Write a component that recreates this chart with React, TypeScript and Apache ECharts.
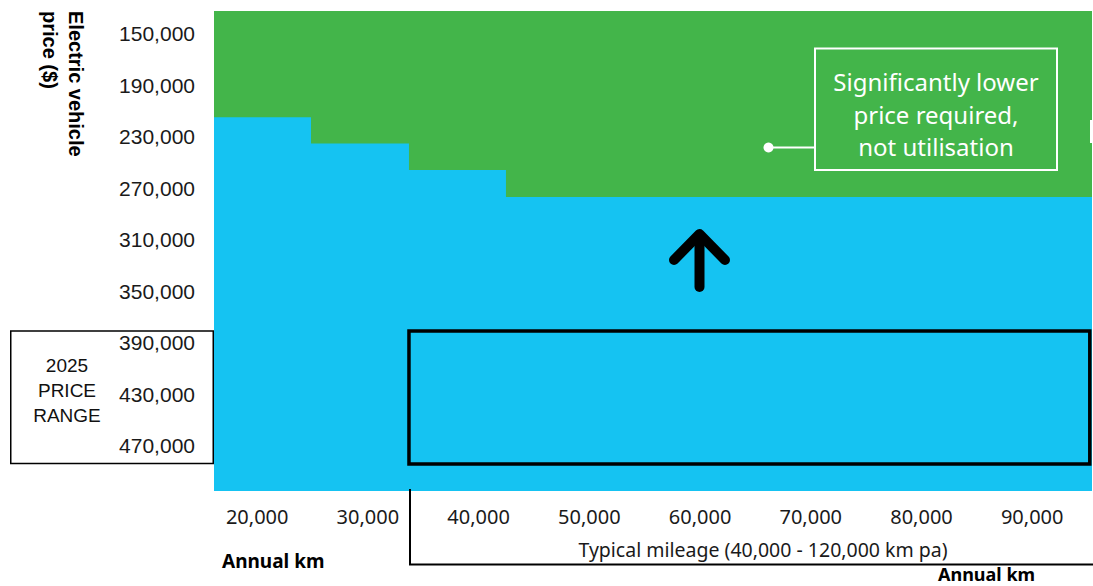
import { useEffect, useRef } from "react";
import * as echarts from "echarts";

// Annual distance axis (km) and the price at which the EV becomes attractive
const kmRange = [16100, 95400];
const kmBreaks = [16100, 24860, 33710, 42470, 95400];
const thresholdPrices = [215000, 235500, 256000, 277000, 277000];
const kmTicks = [20000, 30000, 40000, 50000, 60000, 70000, 80000, 90000];

// Vehicle price axis ($), drawn with cheaper prices at the top
const priceRange = [132500, 505300];
const priceTicks = [150000, 190000, 230000, 270000, 310000, 350000, 390000, 430000, 470000];

// 2025 price band and the typical-mileage span it is highlighted over
const priceBand2025 = [381000, 484300];
const typicalKm = [33710, 95200];

const GREEN = "#43B54A";
const BLUE = "#15C3F2";
const Z = 100;

const fmt = (v: number) => v.toLocaleString("en-US");

export default function App() {
  const ref = useRef<HTMLDivElement>(null);

  useEffect(() => {
    if (!ref.current) return;
    const chart = echarts.init(ref.current, null, { renderer: "svg" });

    const stepData = kmBreaks.map((km, i) => [km, thresholdPrices[i]]);

    chart.setOption({
      animation: false,
      grid: {
        left: 214,
        right: 1,
        top: 11,
        bottom: 95,
        show: true,
        backgroundColor: GREEN,
        borderWidth: 0,
        outerBoundsMode: "none",
      },
      xAxis: {
        type: "value",
        min: kmRange[0],
        max: kmRange[1],
        axisLine: { show: false },
        axisTick: { show: false },
        splitLine: { show: false },
        axisLabel: {
          customValues: kmTicks,
          formatter: (v: number) => fmt(v),
          margin: 15,
          fontSize: 20,
          fontFamily: "Noto Sans",
          color: "#1a1a1a",
        },
      },
      yAxis: {
        type: "value",
        inverse: true,
        min: priceRange[0],
        max: priceRange[1],
        axisLine: { show: false },
        axisTick: { show: false },
        splitLine: { show: false },
        axisLabel: {
          customValues: priceTicks,
          formatter: (v: number) => fmt(v),
          margin: 19,
          fontSize: 21,
          fontFamily: "Liberation Sans",
          color: "#1a1a1a",
        },
      },
      series: [
        {
          type: "line",
          step: "end",
          data: stepData,
          symbol: "none",
          lineStyle: { width: 0 },
          areaStyle: { color: BLUE, opacity: 1, origin: "end" },
          silent: true,
          z: 2,
        },
      ],
    });

    // 2025 price band outline, placed through the chart's own axes
    const p0 = chart.convertToPixel({ gridIndex: 0 }, [typicalKm[0], priceBand2025[0]]) as number[];
    const p1 = chart.convertToPixel({ gridIndex: 0 }, [typicalKm[1], priceBand2025[1]]) as number[];

    chart.setOption({
      graphic: [
        {
          type: "rect",
          z: Z,
          shape: { x: p0[0], y: p0[1], width: p1[0] - p0[0], height: p1[1] - p0[1] },
          style: { fill: "none", stroke: "#000", lineWidth: 3.5 },
        },
        // axis title, rotated to read downwards
        {
          type: "text",
          z: Z,
          x: 76,
          y: 11,
          rotation: -Math.PI / 2,
          style: {
            text: "Electric vehicle",
            font: "bold 20px 'Liberation Sans'",
            fill: "#000",
            align: "left",
            verticalAlign: "middle",
          },
        },
        {
          type: "text",
          z: Z,
          x: 50,
          y: 11,
          rotation: -Math.PI / 2,
          style: {
            text: "price ($)",
            font: "bold 20px 'Liberation Sans'",
            fill: "#000",
            align: "left",
            verticalAlign: "middle",
          },
        },
        // 2025 price range box
        {
          type: "rect",
          z: Z,
          shape: { x: 10.75, y: 331, width: 202.5, height: 132.5 },
          style: { fill: "none", stroke: "#000", lineWidth: 1.5 },
        },
        {
          type: "text",
          z: Z,
          x: 67,
          y: 390,
          style: {
            text: "2025\nPRICE\nRANGE",
            font: "19px 'Liberation Sans'",
            lineHeight: 25,
            fill: "#111",
            align: "center",
            verticalAlign: "middle",
          },
        },
        // callout
        {
          type: "rect",
          z: Z,
          shape: { x: 815, y: 48.5, width: 242, height: 121.5 },
          style: { fill: "none", stroke: "#fff", lineWidth: 2 },
        },
        {
          type: "text",
          z: Z,
          x: 936,
          y: 114,
          style: {
            text: "Significantly lower\nprice required,\nnot utilisation",
            font: "24px 'Noto Sans'",
            lineHeight: 32.5,
            fill: "#fff",
            align: "center",
            verticalAlign: "middle",
          },
        },
        {
          type: "line",
          z: Z,
          shape: { x1: 768, y1: 147.5, x2: 815, y2: 147.5 },
          style: { stroke: "#fff", lineWidth: 2 },
        },
        {
          type: "circle",
          z: Z,
          shape: { cx: 768.5, cy: 147.5, r: 5 },
          style: { fill: "#fff" },
        },
        {
          type: "line",
          z: Z,
          shape: { x1: 1091.5, y1: 120, x2: 1091.5, y2: 143 },
          style: { stroke: "#fff", lineWidth: 3 },
        },
        // upward arrow
        {
          type: "polyline",
          z: Z,
          shape: { points: [[674, 260], [699.5, 234], [725, 260]] },
          style: { fill: "none", stroke: "#000", lineWidth: 10, lineCap: "round", lineJoin: "round" },
        },
        {
          type: "line",
          z: Z,
          shape: { x1: 699.5, y1: 237, x2: 699.5, y2: 287 },
          style: { stroke: "#000", lineWidth: 10, lineCap: "round" },
        },
        // typical mileage bracket
        {
          type: "polyline",
          z: Z,
          shape: { points: [[410, 489], [410, 564.5], [1093, 564.5]] },
          style: { fill: "none", stroke: "#000", lineWidth: 2 },
        },
        {
          type: "text",
          z: Z,
          x: 763,
          y: 549,
          style: {
            text: "Typical mileage (40,000 - 120,000 km pa)",
            font: "19.5px 'Noto Sans'",
            fill: "#1a1a1a",
            align: "center",
            verticalAlign: "middle",
          },
        },
        {
          type: "text",
          z: Z,
          x: 222,
          y: 561,
          style: {
            text: "Annual km",
            font: "bold 19px 'Noto Sans'",
            fill: "#000",
            align: "left",
            verticalAlign: "middle",
          },
        },
        {
          type: "text",
          z: Z,
          x: 938,
          y: 583,
          style: {
            text: "Annual km",
            font: "bold 18px 'Noto Sans'",
            fill: "#000",
            align: "left",
            verticalAlign: "bottom",
          },
        },
      ],
    });

    return () => chart.dispose();
  }, []);

  return (
    <div
      ref={ref}
      style={{ position: "fixed", left: 0, top: 0, width: 1093, height: 586, background: "#fff" }}
    />
  );
}
